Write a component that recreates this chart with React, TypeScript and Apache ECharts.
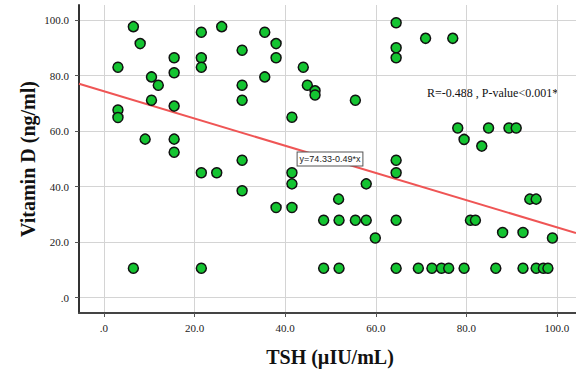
import React, { useEffect, useRef } from "react";
import * as echarts from "echarts";

const tshValues = [
  6.5, 8.0, 3.1, 10.5, 12.0, 10.5, 3.1, 3.1, 15.5, 15.5,
  15.5, 9.1, 15.5, 15.5, 21.5, 26.0, 21.5, 21.5, 30.5, 30.5,
  30.5, 30.5, 35.5, 38.0, 38.0, 35.5, 44.0, 44.9, 46.6, 46.6,
  55.5, 41.5, 64.5, 64.5, 64.5, 71.0, 77.0, 78.1, 84.9, 89.4,
  91.0, 79.5, 83.4, 21.5, 24.9, 30.5, 6.5, 21.5, 41.5, 41.5,
  38.0, 41.5, 57.9, 51.8, 48.5, 51.9, 55.5, 57.9, 64.5, 59.9,
  48.5, 51.9, 64.5, 64.5, 64.5, 69.4, 72.4, 74.5, 76.1, 79.5,
  86.5, 92.5, 95.4, 97.0, 98.0, 94.0, 95.4, 80.9, 82.0, 88.0,
  92.5, 99.0,
];
const vitDValues = [
  97.6, 91.5, 83.0, 79.5, 76.5, 71.1, 67.6, 64.9, 86.4, 81.0,
  69.0, 57.1, 57.1, 52.4, 95.6, 97.6, 86.4, 83.0, 89.1, 76.5,
  71.1, 49.5, 95.6, 91.5, 86.4, 79.5, 83.0, 76.5, 74.5, 73.0,
  71.1, 65.0, 99.0, 90.0, 86.4, 93.4, 93.4, 61.1, 61.1, 61.1,
  61.1, 57.0, 54.6, 45.0, 45.0, 38.5, 10.6, 10.6, 45.0, 41.0,
  32.5, 32.5, 41.0, 35.5, 27.9, 27.9, 27.9, 27.9, 27.9, 21.5,
  10.6, 10.6, 10.6, 49.5, 45.0, 10.6, 10.6, 10.6, 10.6, 10.6,
  10.6, 10.6, 10.6, 10.6, 10.6, 35.5, 35.5, 27.9, 27.9, 23.5,
  23.5, 21.5,
];
const xTickValues = [0, 20, 40, 60, 80, 100];
const yTickValues = [0, 20, 40, 60, 80, 100];
const xRange = [-5.5, 104.2];
const yRange = [-5.5, 105.4];
const fitIntercept = 74.33;
const fitSlope = -0.49;
const fitLabel = "y=74.33-0.49*x";
const statsLabel = "R=-0.488 , P-value<0.001*";
const xTitle = "TSH (µIU/mL)";
const yTitle = "Vitamin D (ng/ml)";

const fmt = (v: number) => (v === 0 ? ".0" : v.toFixed(1));

export default function App() {
  const ref = useRef<HTMLDivElement>(null);
  useEffect(() => {
    if (!ref.current) return;
    const chart = echarts.init(ref.current, null, { renderer: "svg" });
    const points = tshValues.map((x, i) => [x, vitDValues[i]]);
    const fit = xRange.map((x) => [x, fitIntercept + fitSlope * x]);
    const serif = "'Liberation Serif', 'Times New Roman', serif";
    chart.setOption({
      animation: false,
      backgroundColor: "#ffffff",
      grid: { left: 79, right: 0, top: 5, bottom: 58, containLabel: false },
      xAxis: {
        type: "value",
        min: xRange[0],
        max: xRange[1],
        axisLine: { show: true, onZero: false, lineStyle: { color: "#444", width: 2 } },
        axisTick: { show: true, length: 4, customValues: xTickValues, lineStyle: { color: "#555" } },
        axisLabel: {
          customValues: xTickValues,
          formatter: fmt,
          fontFamily: serif,
          fontSize: 11,
          color: "#222",
          margin: 9,
        },
        splitLine: { show: true, lineStyle: { color: "#d4d4d4", width: 1 } },
      },
      yAxis: {
        type: "value",
        min: yRange[0],
        max: yRange[1],
        axisLine: { show: true, onZero: false, lineStyle: { color: "#333", width: 2 } },
        axisTick: { show: true, length: 4, customValues: yTickValues, lineStyle: { color: "#555" } },
        axisLabel: {
          customValues: yTickValues,
          formatter: fmt,
          fontFamily: serif,
          fontSize: 11,
          color: "#222",
          margin: 10,
        },
        splitLine: { show: true, lineStyle: { color: "#d4d4d4", width: 1 } },
      },
      series: [
        {
          type: "line",
          data: fit,
          symbol: "none",
          lineStyle: { color: "#ef5555", width: 2 },
          z: 3,
          silent: true,
        },
        {
          type: "scatter",
          data: points,
          symbol: "circle",
          symbolSize: 10,
          itemStyle: { color: "#14c431", borderColor: "#111", borderWidth: 1.5, opacity: 1 },
          z: 4,
        },
      ],
      graphic: [
        {
          type: "text",
          x: 28,
          y: 159,
          rotation: Math.PI / 2,
          style: {
            text: yTitle,
            font: `bold 20px ${serif}`,
            fill: "#111",
            align: "center",
            verticalAlign: "middle",
          },
        },
        {
          type: "text",
          x: 330,
          y: 357,
          style: {
            text: xTitle,
            font: `bold 20px ${serif}`,
            fill: "#111",
            align: "center",
            verticalAlign: "middle",
          },
        },
        {
          type: "text",
          x: 427,
          y: 93,
          style: {
            text: statsLabel,
            font: `12px ${serif}`,
            fill: "#111",
            align: "left",
            verticalAlign: "middle",
          },
        },
        {
          type: "text",
          x: 330,
          y: 159,
          z: 10,
          style: {
            text: fitLabel,
            font: "9px 'Liberation Sans', Arial, sans-serif",
            fill: "#222",
            align: "center",
            verticalAlign: "middle",
            backgroundColor: "#fff",
            borderColor: "#555",
            borderWidth: 1,
            padding: [2, 2],
          },
        },
      ],
    });
    return () => chart.dispose();
  }, []);
  return (
    <div
      ref={ref}
      style={{ position: "fixed", left: 0, top: 0, width: 576, height: 371 }}
    />
  );
}
